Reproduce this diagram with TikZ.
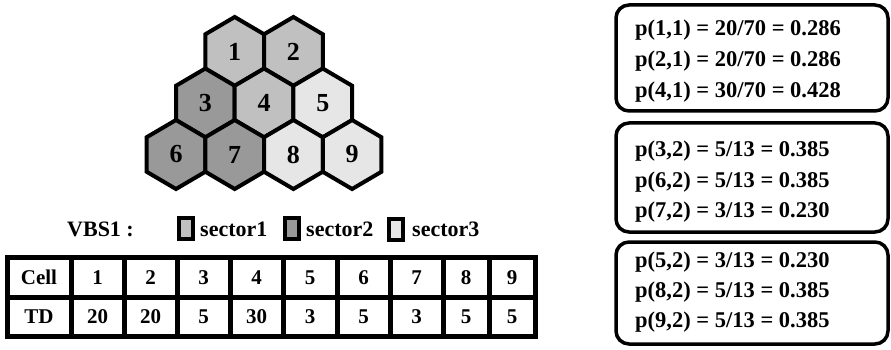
\documentclass[tikz,border=0pt]{standalone}
\usepackage{fontspec}
\setmainfont{Liberation Serif}
\definecolor{secA}{HTML}{C0C0C0}
\definecolor{secB}{HTML}{999999}
\definecolor{secC}{HTML}{E6E6E6}
\begin{document}
\begin{tikzpicture}[x=1pt,y=-1pt,
  hexcell/.style={draw=black,line width=4pt,line join=miter},
  hexlabel/.style={font=\fontsize{26}{30}\selectfont\bfseries,inner sep=0pt},
  tabgrid/.style={draw=black,line width=5pt},
  tabtext/.style={font=\fontsize{21}{25}\selectfont\bfseries,inner sep=0pt},
  legtext/.style={font=\fontsize{22}{26}\selectfont\bfseries,inner sep=0pt,anchor=base west},
  legbox/.style={draw=black,line width=4pt},
  probbox/.style={draw=black,line width=3.5pt,rounded corners=13pt},
  probtext/.style={font=\fontsize{22.5}{26}\selectfont\bfseries,inner sep=0pt,anchor=base west}]
\useasboundingbox (0,0) rectangle (891,350);
\fill[white] (0,0) rectangle (891,350);
% hexagons
\foreach \cx/\cy/\col/\n in {234.7/51.5/secA/1, 293.4/51.5/secA/2,
  205.35/103/secB/3, 264.05/103/secA/4, 322.75/103/secC/5,
  176/154.5/secB/6, 234.7/154.5/secB/7, 293.4/154.5/secC/8, 352.1/154.5/secC/9}{
  \draw[hexcell,fill=\col] (\cx,\cy) ++(0,-34.5) -- ++(29.35,17.25) -- ++(0,34.5)
     -- ++(-29.35,17.25) -- ++(-29.35,-17.25) -- ++(0,-34.5) -- cycle;
  \node[hexlabel] (hex\n) at (\cx,\cy) {\n};
}
% legend
\node[legtext] (vbs) at (67,236) {VBS1 :};
\draw[legbox,fill=secA] (179,218) rectangle (193,239);
\node[legtext] (leg1) at (200,236.5) {sector1};
\draw[legbox,fill=secB] (285,218) rectangle (299,239);
\node[legtext] (leg2) at (306,236.5) {sector2};
\draw[legbox,fill=secC] (389,219) rectangle (403,240);
\node[legtext] (leg3) at (412,236.5) {sector3};
% table
\draw[tabgrid] (7,257.5) rectangle (535,336.5);
\draw[tabgrid] (7,297) -- (535,297);
\foreach \x in {71,124,177,230,283,337,390,443,489}{
  \draw[tabgrid] (\x,257.5) -- (\x,336.5);
}
\foreach \xa/\xb/\ta/\tb [count=\i] in {7/71/Cell/TD, 71/124/1/20, 124/177/2/20, 177/230/3/5,
  230/283/4/30, 283/337/5/3, 337/390/6/5, 390/443/7/3, 443/489/8/5, 489/535/9/5}{
  \node[tabtext] (top\i) at ({(\xa+\xb)/2},277.5) {\ta};
  \node[tabtext] (bot\i) at ({(\xa+\xb)/2},317) {\tb};
}
% probability boxes
\draw[probbox] (616,5) rectangle (888,111);
\node[probtext] (p11) at (635,36) {p(1,1) = 20/70 = 0.286};
\node[probtext] (p21) at (635,67) {p(2,1) = 20/70 = 0.286};
\node[probtext] (p41) at (635,98) {p(4,1) = 30/70 = 0.428};
\draw[probbox] (616,123) rectangle (888,232);
\node[probtext] (p32) at (635,157) {p(3,2) = 5/13 = 0.385};
\node[probtext] (p62) at (635,187) {p(6,2) = 5/13 = 0.385};
\node[probtext] (p72) at (635,217) {p(7,2) = 3/13 = 0.230};
\draw[probbox] (616,242) rectangle (888,344);
\node[probtext] (p52) at (635,267.5) {p(5,2) = 3/13 = 0.230};
\node[probtext] (p82) at (635,297.5) {p(8,2) = 5/13 = 0.385};
\node[probtext] (p92) at (635,327.5) {p(9,2) = 5/13 = 0.385};
\end{tikzpicture}
\end{document}
